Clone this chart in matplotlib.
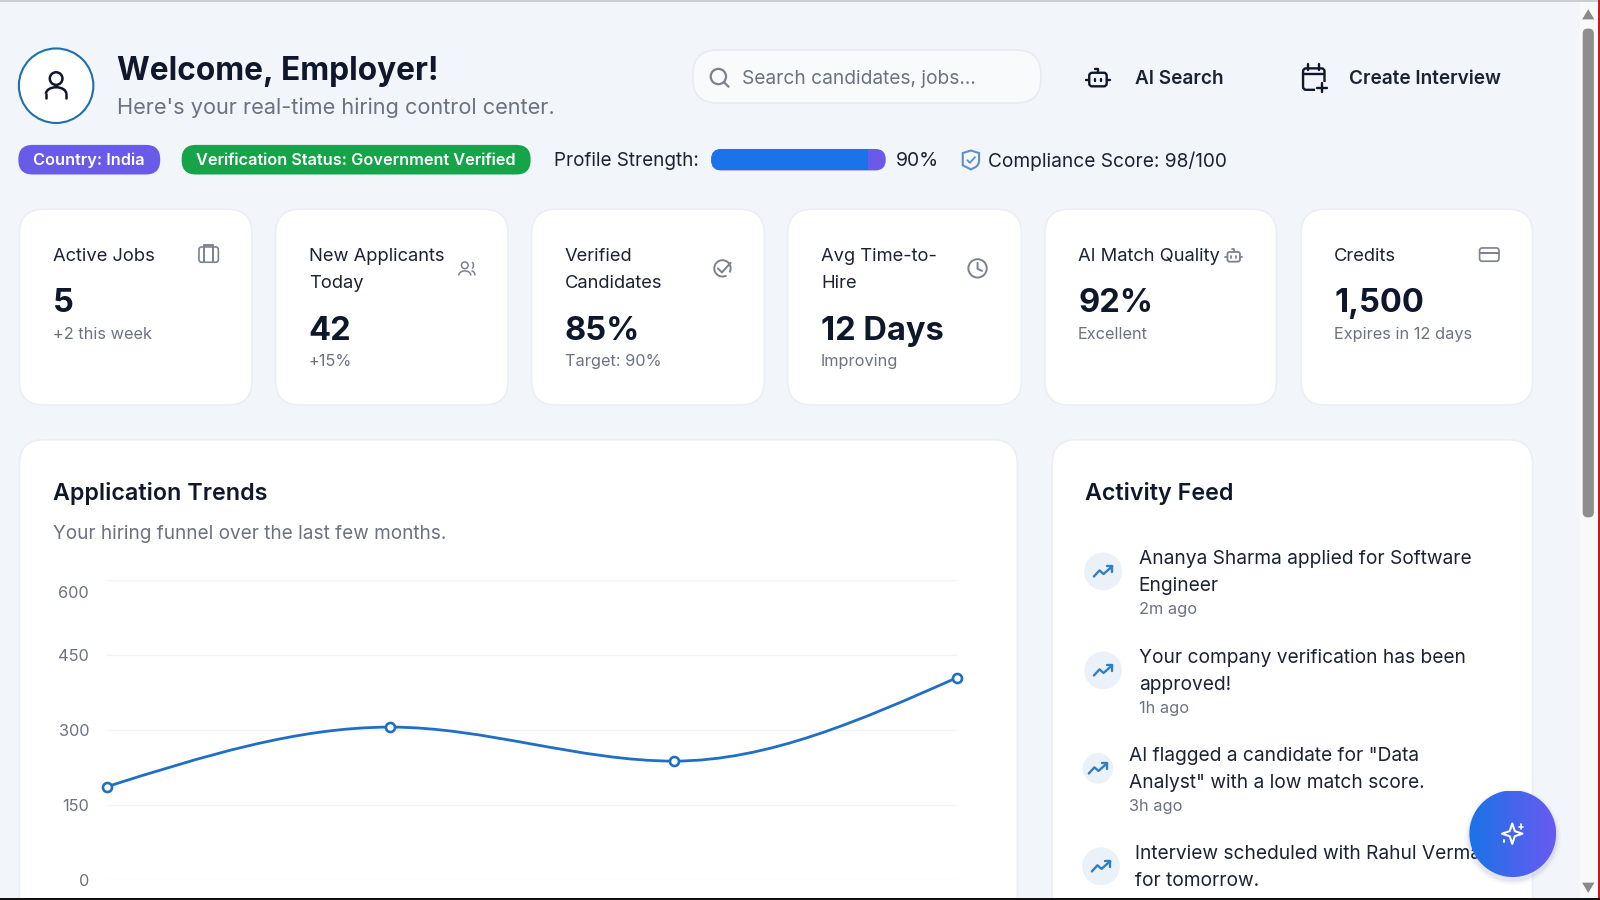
import matplotlib
matplotlib.use("Agg")
import matplotlib.pyplot as plt
import numpy as np
from matplotlib.patches import Circle, FancyBboxPatch, PathPatch, Polygon, Rectangle, Arc
from matplotlib.path import Path
from matplotlib.transforms import ScaledTranslation

plt.rcParams['font.family'] = ['Inter', 'DejaVu Sans']

# --- data ---
card_titles = ["Active Jobs", "New Applicants\nToday", "Verified\nCandidates",
               "Avg Time-to-\nHire", "AI Match Quality", "Credits"]
card_values = ["5", "42", "85%", "12 Days", "92%", "1,500"]
card_notes = ["+2 this week", "+15%", "Target: 90%", "Improving", "Excellent", "Expires in 12 days"]

trend_x = [0, 1, 2, 3]
trend_values = [186, 305, 237, 404]
trend_ticks = [0, 150, 300, 450, 600]

feed_lines = ["Ananya Sharma applied for Software\nEngineer",
              "Your company verification has been\napproved!",
              "AI flagged a candidate for \"Data\nAnalyst\" with a low match score.",
              "Interview scheduled with Rahul Verma\nfor tomorrow."]
feed_times = ["2m ago", "1h ago", "3h ago", ""]

profile_strength = 90
compliance = "Compliance Score: 98/100"

# --- colors ---
BG = "#f2f5fa"
DARK = "#0f172a"
TEXT = "#1b2333"
MUTED = "#6b7280"
ICON = "#7b828e"
BLUE = "#1a73e8"
VIOLET = "#6a5ae8"
GREEN = "#16a34a"
W, H = 1568, 882


def fs(px):
    # tamaño en px de la captura -> puntos
    return px * (1600 / 1568) * 0.72


fig = plt.figure(figsize=(16, 9), dpi=100, facecolor=BG)
base = fig.add_axes([0, 0, 1, 1], zorder=1)
base.set_xlim(0, W)
base.set_ylim(H, 0)
base.axis("off")


def txt(x, y, s, px, color=TEXT, weight="normal", ha="left", va="center", z=5, **kw):
    return base.text(x, y, s, fontsize=fs(px), color=color, fontweight=weight, ha=ha, va=va, zorder=z, **kw)


def box(x0, y0, x1, y1, r, fc="white", ec="#ebeef4", lw=1.2, z=2):
    p = FancyBboxPatch((x0, y0), x1 - x0, y1 - y0, boxstyle=f"round,pad=0,rounding_size={r}",
                       fc=fc, ec=ec, lw=lw, zorder=z)
    base.add_patch(p)
    return p


def line(xs, ys, c=ICON, lw=1.4, z=6):
    base.plot(xs, ys, color=c, lw=lw, solid_capstyle="round", solid_joinstyle="round", zorder=z)


def ring(x, y, r, c=ICON, lw=1.4, fc="none", z=6):
    base.add_patch(Circle((x, y), r, fc=fc, ec=c, lw=lw, zorder=z))


def arc(x, y, w, h, t1, t2, c=ICON, lw=1.4, z=6):
    base.add_patch(Arc((x, y), w, h, theta1=t1, theta2=t2, color=c, lw=lw, zorder=z))


def bot_icon(x, y, s=1.0, c=ICON, lw=1.4):
    box(x - 9 * s, y - 6 * s, x + 9 * s, y + 8 * s, 3 * s, fc="none", ec=c, lw=lw, z=6)
    line([x - 12 * s, x - 9 * s], [y + 1 * s] * 2, c, lw)
    line([x + 9 * s, x + 12 * s], [y + 1 * s] * 2, c, lw)
    line([x, x, x - 3 * s], [y - 6 * s, y - 10 * s, y - 10 * s], c, lw)
    line([x - 3.5 * s] * 2, [y, y + 2 * s], c, lw)
    line([x + 3.5 * s] * 2, [y, y + 2 * s], c, lw)


def trend_icon(x, y):
    line([x - 9, x - 3.5, x + 0.5, x + 9], [y + 5, y - 1, y + 2.5, y - 5], "#2f7fc4", 1.7)
    line([x + 3.5, x + 9, x + 9], [y - 5, y - 5, y + 0.5], "#2f7fc4", 1.7)


# --- marco de la captura ---
base.add_patch(Rectangle((0, 0), W, 1.5, fc="#c9ccd1", zorder=8))
base.add_patch(Rectangle((1548, 0), 20, H, fc="#f8f9fb", zorder=7))
base.add_patch(Rectangle((1566, 0), 2, H, fc="#d2141c", zorder=9))
base.add_patch(Rectangle((0, 880), W, 2, fc="#111111", zorder=9))
box(1551, 28, 1562, 507, 5, fc="#8e8e8e", ec="none", lw=0, z=8)
base.add_patch(Polygon([[1556.5, 9], [1550.5, 19], [1562.5, 19]], fc="#8a8a8a", zorder=8))
base.add_patch(Polygon([[1556.5, 875], [1550.5, 865], [1562.5, 865]], fc="#8a8a8a", zorder=8))

# --- cabecera ---
ring(55, 84, 36.5, c="#1f6fa8", lw=1.5, fc="white", z=3)
ring(55, 77, 6.2, c=DARK, lw=1.8)
line([45, 45], [96, 92], DARK, 1.8)
line([65, 65], [96, 92], DARK, 1.8)
arc(55, 92, 20, 13, 180, 360, DARK, 1.8)
txt(115, 70, "Welcome, Employer!", 31, color=DARK, weight="bold")
txt(115, 106, "Here's your real-time hiring control center.", 21.3, color=MUTED)

box(679, 49, 1020, 101, 24, fc="#f8fafc", ec="#e8ecf2")
ring(704, 75, 7.5, c=ICON, lw=1.6)
line([709.5, 714], [80.5, 85], ICON, 1.6)
txt(727, 77, "Search candidates, jobs...", 18.8, color=MUTED)

bot_icon(1076, 77, 0.95, DARK, 1.7)
txt(1112, 77, "AI Search", 18.6, color=TEXT, weight="semibold")
box(1277, 67, 1298, 88, 3, fc="none", ec=DARK, lw=1.7, z=6)
line([1277, 1298], [73, 73], DARK, 1.7)
line([1282, 1282], [63, 69], DARK, 1.7)
line([1293, 1293], [63, 69], DARK, 1.7)
base.add_patch(Rectangle((1289, 80), 12, 12, fc=BG, ec="none", zorder=6))
line([1291, 1300], [86, 86], DARK, 1.7, z=7)
line([1295.5, 1295.5], [81.5, 90.5], DARK, 1.7, z=7)
txt(1322, 77, "Create Interview", 18.6, color=TEXT, weight="semibold")

# --- insignias y barra de perfil ---
box(18, 142, 157, 171, 14, fc=VIOLET, ec="none", lw=0)
txt(87.5, 157.5, "Country: India", 16, color="white", weight="semibold", ha="center")
box(178, 142, 520, 171, 14, fc=GREEN, ec="none", lw=0)
txt(349, 157.5, "Verification Status: Government Verified", 16, color="white", weight="semibold", ha="center")
txt(543, 158, "Profile Strength:", 18.5, color=TEXT)
bar_x0, bar_x1 = 697, 868
box(bar_x0, 146, bar_x1, 167, 10, fc=VIOLET, ec="none", lw=0)
fill = bar_x0 + (bar_x1 - bar_x0) * profile_strength / 100
clip = Rectangle((bar_x0, 146), fill - bar_x0, 21, transform=base.transData)
fp = box(bar_x0, 146, bar_x1, 167, 10, fc=BLUE, ec="none", lw=0, z=3)
fp.set_clip_path(clip)
txt(878, 158, f"{profile_strength}%", 19, color=TEXT)
shield = Path([(951.5, 147.5), (959.5, 150), (959.5, 157), (959.5, 162), (955.5, 164), (951.5, 166),
               (947.5, 164), (943.5, 162), (943.5, 157), (943.5, 150), (951.5, 147.5)],
              [Path.MOVETO, Path.LINETO, Path.LINETO, Path.CURVE3, Path.CURVE3, Path.LINETO,
               Path.CURVE3, Path.CURVE3, Path.LINETO, Path.LINETO, Path.CLOSEPOLY])
base.add_patch(PathPatch(shield, fc="none", ec="#5f8fc4", lw=1.5, zorder=6))
line([948, 950.5, 955.5], [157, 159.5, 154], "#5f8fc4", 1.3)
txt(968, 158, compliance, 18.75, color=TEXT)

# --- tarjetas ---
card_x0 = [19, 270, 521, 772, 1024, 1275]
card_x1 = [247, 498, 749, 1001, 1251, 1502]
for i, (t, v, n) in enumerate(zip(card_titles, card_values, card_notes)):
    x0, x1 = card_x0[i], card_x1[i]
    box(x0, 205, x1, 397, 24)
    two = "\n" in t
    for k, part in enumerate(t.split("\n")):
        txt(x0 + 32.5, 251.5 + 26.5 * k, part, 18, color=TEXT)
    shift = 27 if two else 0
    txt(x0 + 32.5, 297.5 + shift, v, 32, color=DARK, weight="bold")
    txt(x0 + 32.5, 327.5 + shift, n, 16, color=MUTED)

# iconos de tarjetas
box(195, 242, 214, 257, 2.5, fc="none", ec=ICON)
line([200, 200], [242, 257])
line([209, 209], [242, 257])
line([200, 200, 209, 209], [242, 240, 240, 242])
ring(455.5, 260, 3.3, lw=1.1)
arc(455.5, 270, 12, 9, 180, 360, lw=1.1)
arc(461.5, 260, 5, 7, -70, 70, lw=1.1)
arc(462, 270, 7, 9, 270, 360, lw=1.1)
arc(708, 263, 16, 16, 60, 390)
line([703.5, 707.5, 716], [263, 267, 257.5])
ring(958, 263, 9)
line([958, 958, 962.5], [257.5, 263.5, 265.5])
bot_icon(1209, 251, 0.68, ICON, 1.3)
box(1450, 243, 1469, 256, 2.5, fc="none", ec=ICON)
line([1450, 1469], [248, 248])

# --- paneles inferiores ---
box(19, 431, 997, 920, 24)
box(1031, 431, 1502, 920, 24)
txt(52, 483.5, "Application Trends", 22.8, color=DARK, weight="semibold")
txt(52, 523.5, "Your hiring funnel over the last few months.", 18.6, color=MUTED)
txt(1063, 483.5, "Activity Feed", 22.8, color=DARK, weight="semibold")

# --- gráfico de tendencias ---
ax = fig.add_axes([105 / W, 1 - 862 / H, (938 - 105) / W, (862 - 568) / H], zorder=2)
ax.patch.set_alpha(0)
ax.set_xlim(trend_x[0], trend_x[-1])
ax.set_ylim(trend_ticks[0], trend_ticks[-1])
ax.set_yticks(trend_ticks)
ax.set_xticks([])
ax.tick_params(axis="y", length=0, pad=13, labelsize=fs(16), labelcolor=MUTED)
ax.grid(axis="y", color="#f2f3f5", lw=1)
ax.set_axisbelow(True)
for sp in ax.spines.values():
    sp.set_visible(False)
# la etiqueta 600 queda un poco por debajo de su línea
top_label = ax.get_yticklabels()[-1]
top_label.set_transform(top_label.get_transform() + ScaledTranslation(0, -12.5 / 100, fig.dpi_scale_trans))

# curva monótona entre los puntos (como monotoneX)
xv = np.array(trend_x, dtype=float)
yv = np.array(trend_values, dtype=float)
sl = np.diff(yv) / np.diff(xv)
tan = np.zeros(len(yv))
for i in range(1, len(yv) - 1):
    if sl[i - 1] * sl[i] > 0:
        tan[i] = 2 * sl[i - 1] * sl[i] / (sl[i - 1] + sl[i])
tan[0] = (3 * sl[0] - tan[1]) / 2
tan[-1] = (3 * sl[-1] - tan[-2]) / 2
verts = [(xv[0], yv[0])]
codes = [Path.MOVETO]
for i in range(len(xv) - 1):
    h = (xv[i + 1] - xv[i]) / 3
    verts += [(xv[i] + h, yv[i] + tan[i] * h), (xv[i + 1] - h, yv[i + 1] - tan[i + 1] * h), (xv[i + 1], yv[i + 1])]
    codes += [Path.CURVE4] * 3
ax.add_patch(PathPatch(Path(verts, codes), fc="none", ec="#1f6fc4", lw=2, zorder=3, clip_on=False))
ax.plot(trend_x, trend_values, ls="none", marker="o", ms=6.5, mfc="white", mec="#1f6fc4", mew=1.9,
        zorder=4, clip_on=False)

# --- actividad ---
feed_icon_x = [1081, 1081, 1076, 1079]
feed_text_x = [1116, 1116, 1106, 1112]
feed_y = [546, 643, 739, 835]
for i, (s, t) in enumerate(zip(feed_lines, feed_times)):
    y = feed_y[i]
    base.add_patch(Circle((feed_icon_x[i], y + 14), 18.5 if i != 2 else 15,
                          fc="#eaf1f9", ec="none", zorder=3))
    trend_icon(feed_icon_x[i], y + 14)
    for k, part in enumerate(s.split("\n")):
        txt(feed_text_x[i], y + 1.5 + 26.7 * k, part, 18.8, color=TEXT)
    if t:
        txt(feed_text_x[i], y + 51.5, t, 16, color=MUTED)

# --- botón flotante ---
grad = np.linspace(0, 1, 256).reshape(1, -1)
cmap = matplotlib.colors.LinearSegmentedColormap.from_list("fab", ["#1a73e8", "#6a5af0"])
for r, a in [(47, 0.03), (45, 0.04), (44, 0.05)]:
    base.add_patch(Circle((1482.5, 820), r, fc="#1e3a8a", ec="none", alpha=a, zorder=9))
im = base.imshow(grad, extent=(1440, 1525, 860, 775), cmap=cmap, aspect="auto", zorder=10)
im.set_clip_path(Circle((1482.5, 817), 42.5, transform=base.transData))
base.set_xlim(0, W)
base.set_ylim(H, 0)
sx, sy = 1482, 817
star = [(sx, sy - 10), (sx + 2.5, sy - 2.5), (sx + 10, sy), (sx + 2.5, sy + 2.5), (sx, sy + 10),
        (sx - 2.5, sy + 2.5), (sx - 10, sy), (sx - 2.5, sy - 2.5)]
base.add_patch(Polygon(star, fc="none", ec="white", lw=1.5, zorder=11, joinstyle="round"))
line([sx + 9, sx + 9], [sy - 9, sy - 5], "white", 1.2, z=11)
line([sx + 7, sx + 11], [sy - 7, sy - 7], "white", 1.2, z=11)
line([sx - 8, sx - 8], [sy + 6, sy + 8], "white", 1.4, z=11)

fig.savefig("out.png", dpi=100, facecolor=BG)
